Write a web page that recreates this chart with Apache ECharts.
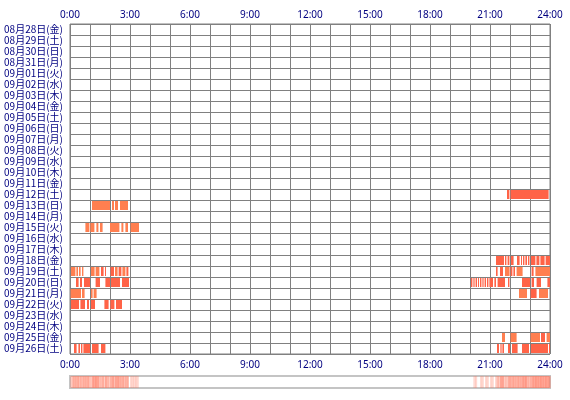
<!DOCTYPE html>
<html>
<head>
<meta charset="utf-8">
<script src="https://cdn.jsdelivr.net/npm/echarts@6/dist/echarts.min.js"></script>
<style>
  html, body { margin: 0; padding: 0; background: #fff; }
  #chart { width: 570px; height: 400px; }
</style>
</head>
<body>
<div id="chart"></div>
<script>
// one row per day, top to bottom
const dayLabels = [
  '08月28日(金)', '08月29日(土)', '08月30日(日)', '08月31日(月)',
  '09月01日(火)', '09月02日(水)', '09月03日(木)', '09月04日(金)',
  '09月05日(土)', '09月06日(日)', '09月07日(月)', '09月08日(火)',
  '09月09日(水)', '09月10日(木)', '09月11日(金)', '09月12日(土)',
  '09月13日(日)', '09月14日(月)', '09月15日(火)', '09月16日(水)',
  '09月17日(木)', '09月18日(金)', '09月19日(土)', '09月20日(日)',
  '09月21日(月)', '09月22日(火)', '09月23日(水)', '09月24日(木)',
  '09月25日(金)', '09月26日(土)'
]
const hourTicks = [0, 3, 6, 9, 12, 15, 18, 21, 24]

// [start hour, end hour, level]  level 1 = light, 2 = strong
const d0912 = [[21.85, 21.97, 2], [22.03, 23.93, 2]]
const d0913 = [[1.1, 2.0, 1], [2.1, 2.2, 1], [2.25, 2.4, 1], [2.5, 2.9, 1]]
const d0915 = [[0.77, 0.97, 1], [1.02, 1.22, 1], [1.32, 1.42, 1], [1.5, 1.63, 1],
  [2.0, 2.47, 1], [2.57, 2.67, 1], [2.77, 2.9, 1], [3.03, 3.45, 1]]
const d0918 = [[21.3, 21.7, 2], [21.75, 21.82, 2], [21.88, 21.97, 2], [22.05, 22.18, 2],
  [22.35, 22.48, 2], [22.55, 22.6, 2], [22.65, 22.72, 2], [22.77, 22.85, 2],
  [22.9, 22.97, 2], [23.05, 23.27, 2], [23.32, 23.47, 2], [23.52, 23.73, 2], [23.78, 24.0, 2]]
const d0919 = [[0.05, 0.27, 1], [0.32, 0.4, 1], [0.45, 0.53, 1], [0.6, 0.67, 1],
  [1.05, 1.23, 1], [1.28, 1.47, 1], [1.55, 1.68, 2], [1.75, 1.8, 2],
  [2.03, 2.2, 2], [2.25, 2.38, 1], [2.43, 2.57, 2], [2.62, 2.77, 1], [2.82, 2.92, 2],
  [21.3, 21.38, 2], [21.5, 21.65, 2], [21.75, 21.98, 1], [22.03, 22.12, 2],
  [22.17, 22.25, 2], [22.33, 22.63, 1], [23.08, 23.18, 2], [23.27, 24.0, 1]]
const d0920 = [[0.3, 0.43, 2], [0.5, 0.6, 2], [0.7, 1.0, 2], [1.28, 1.5, 2],
  [1.77, 2.0, 2], [2.05, 2.5, 2], [2.6, 2.95, 2],
  [20.05, 20.12, 2], [20.17, 20.23, 2], [20.28, 20.35, 2], [20.4, 20.45, 2],
  [20.5, 20.57, 2], [20.62, 20.68, 2], [20.73, 20.8, 2], [20.85, 20.92, 2],
  [20.97, 21.15, 2], [21.22, 21.3, 2], [21.38, 21.75, 2], [21.9, 21.97, 2],
  [22.6, 23.0, 2], [23.08, 23.2, 2], [23.33, 23.55, 2], [23.87, 24.0, 2]]
const d0921 = [[0.03, 0.55, 1], [0.6, 0.73, 1], [1.05, 1.13, 1], [1.18, 1.33, 1],
  [22.45, 22.85, 1], [23.03, 23.33, 2], [23.45, 23.9, 1]]
const d0922 = [[0.05, 0.45, 2], [0.52, 0.75, 2], [0.85, 0.95, 2], [1.05, 1.25, 2],
  [1.72, 1.93, 2], [2.02, 2.22, 2], [2.3, 2.6, 2]]
const d0925 = [[21.6, 21.75, 1], [22.03, 22.33, 1], [23.03, 23.5, 1],
  [23.55, 23.75, 2], [23.83, 24.0, 1]]
const d0926 = [[0.2, 0.33, 2], [0.42, 0.5, 2], [0.55, 0.62, 2], [0.67, 1.0, 2],
  [1.1, 1.43, 2], [1.55, 1.77, 2],
  [21.35, 21.45, 2], [21.52, 21.58, 2], [21.62, 21.7, 2], [21.9, 22.0, 2],
  [22.1, 22.38, 2], [22.6, 22.95, 2], [23.05, 23.9, 2], [23.95, 24.0, 2]]

const activeRows = [
  ['09月12日(土)', d0912], ['09月13日(日)', d0913], ['09月15日(火)', d0915],
  ['09月18日(金)', d0918], ['09月19日(土)', d0919], ['09月20日(日)', d0920],
  ['09月21日(月)', d0921], ['09月22日(火)', d0922], ['09月25日(金)', d0925],
  ['09月26日(土)', d0926]
]

const segData = []
activeRows.forEach(function (r) {
  r[1].forEach(function (s) { segData.push([s[0], s[1], r[0], s[2]]) })
})

// summary strip: how many days were active in each 5 minute slot
const binSize = 5 / 60
const stripData = []
for (let b = 0; b < 288; b++) {
  const mid = (b + 0.5) * binSize
  let n = 0
  activeRows.forEach(function (r) {
    if (r[1].some(function (s) { return mid >= s[0] && mid < s[1] })) n++
  })
  if (n > 0) stripData.push([b * binSize, (b + 1) * binSize, n])
}

const navy = '#000080'
const gridGray = '#808080'

const chart = echarts.init(document.getElementById('chart'))
chart.setOption({
  animation: false,
  grid: [
    { left: 70, top: 24, width: 480, height: 330, show: true, borderColor: gridGray, borderWidth: 1 },
    { left: 70, top: 376, width: 480, height: 12, show: true, borderColor: '#c4c4c4', borderWidth: 2 }
  ],
  xAxis: [
    {
      gridIndex: 0, type: 'value', position: 'top', min: 0, max: 24, interval: 1,
      axisLine: { show: false }, axisTick: { show: false },
      splitLine: { show: true, lineStyle: { color: gridGray, width: 1 } },
      axisLabel: {
        color: navy, fontSize: 10, fontFamily: 'Noto Sans', margin: 4,
        formatter: function (v) { return hourTicks.indexOf(v) >= 0 ? v + ':00' : '' }
      }
    },
    {
      gridIndex: 0, type: 'value', position: 'bottom', min: 0, max: 24, interval: 1,
      axisLine: { show: false }, axisTick: { show: false }, splitLine: { show: false },
      axisLabel: {
        color: navy, fontSize: 10, fontFamily: 'Noto Sans', margin: 6,
        formatter: function (v) { return hourTicks.indexOf(v) >= 0 ? v + ':00' : '' }
      }
    },
    { gridIndex: 1, type: 'value', min: 0, max: 24, show: false }
  ],
  yAxis: [
    {
      gridIndex: 0, type: 'category', data: dayLabels, inverse: true,
      axisLine: { show: false }, axisTick: { show: false },
      splitLine: { show: true, interval: 0, lineStyle: { color: gridGray, width: 1 } },
      axisLabel: {
        interval: 0, hideOverlap: false, color: navy, fontSize: 10, lineHeight: 11,
        fontFamily: 'Noto Sans CJK JP', margin: 7
      }
    },
    { gridIndex: 1, type: 'value', min: 0, max: 1, show: false }
  ],
  series: [
    {
      type: 'custom',
      xAxisIndex: 0, yAxisIndex: 0,
      data: segData,
      encode: { x: [0, 1], y: 2 },
      renderItem: function (params, api) {
        const a = api.coord([api.value(0), api.value(2)])
        const b = api.coord([api.value(1), api.value(2)])
        const h = api.size([0, 1])[1]
        return {
          type: 'rect',
          shape: { x: a[0], y: a[1] - h / 2 + 1, width: b[0] - a[0], height: h - 2 },
          style: { fill: api.value(3) === 2 ? '#ff6347' : '#ff7f50' }
        }
      }
    },
    {
      type: 'custom',
      xAxisIndex: 2, yAxisIndex: 1,
      data: stripData,
      encode: { x: [0, 1] },
      renderItem: function (params, api) {
        const a = api.coord([api.value(0), 0])
        const b = api.coord([api.value(1), 1])
        const alpha = Math.min(0.18 + 0.1 * api.value(2), 0.65)
        return {
          type: 'rect',
          shape: { x: a[0], y: b[1], width: b[0] - a[0] + 0.5, height: a[1] - b[1] },
          style: { fill: 'rgba(255, 120, 95, ' + alpha + ')' }
        }
      }
    }
  ]
})
</script>
</body>
</html>
